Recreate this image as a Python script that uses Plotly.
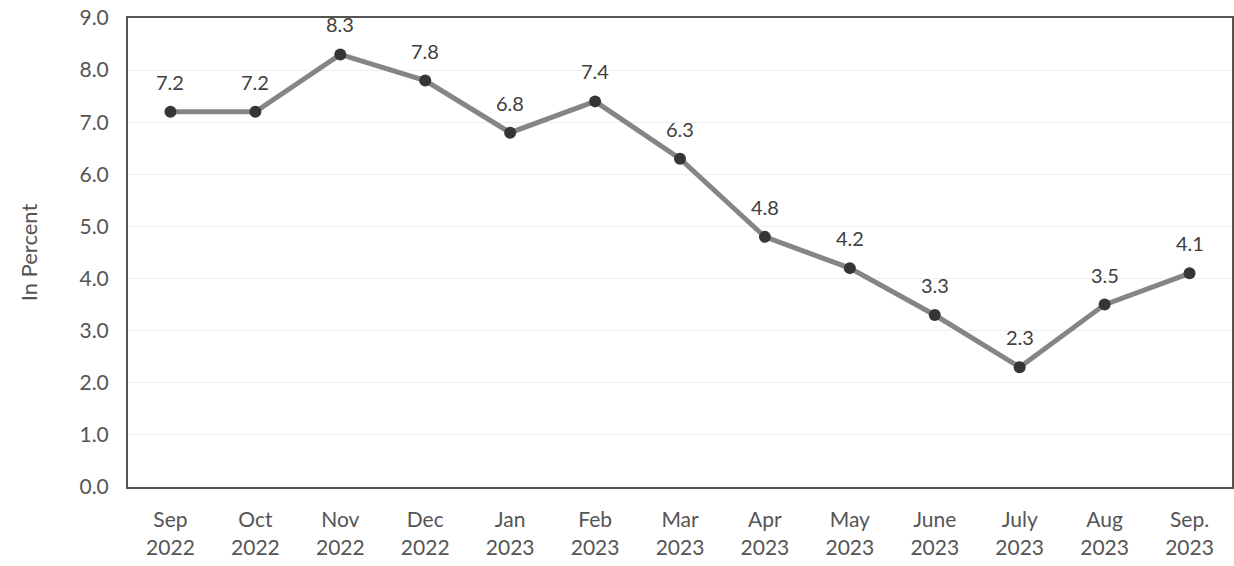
import plotly.graph_objects as go

months = ["Sep<br>2022", "Oct<br>2022", "Nov<br>2022", "Dec<br>2022", "Jan<br>2023", "Feb<br>2023",
          "Mar<br>2023", "Apr<br>2023", "May<br>2023", "June<br>2023", "July<br>2023", "Aug<br>2023",
          "Sep.<br>2023"]
values = [7.2, 7.2, 8.3, 7.8, 6.8, 7.4, 6.3, 4.8, 4.2, 3.3, 2.3, 3.5, 4.1]
y_ticks = [0, 1, 2, 3, 4, 5, 6, 7, 8, 9]

font_family = "Lato, 'Open Sans', sans-serif"

fig = go.Figure()
fig.add_trace(go.Scatter(
    x=months, y=values, mode="lines+markers",
    line=dict(color="#858585", width=5),
    marker=dict(color="#363636", size=12, line=dict(color="#363636", width=0)),
    showlegend=False, cliponaxis=False,
))

for m, v in zip(months, values):
    fig.add_annotation(x=m, y=v, text=f"{v:.1f}", showarrow=False, yshift=30,
                       font=dict(family=font_family, size=20, color="#404040"))

fig.update_layout(
    width=1234, height=566,
    margin=dict(l=128, r=2, t=18, b=79, autoexpand=False),
    paper_bgcolor="white", plot_bgcolor="white",
    font=dict(family=font_family, size=21, color="#555555"),
)
fig.update_xaxes(
    type="category", range=[-0.5, 12.5], automargin=False,
    showline=True, linecolor="#555555", linewidth=2, mirror=True,
    showgrid=False, ticks="", ticklabelstandoff=13, tickfont=dict(size=21, color="#555555"),
)
fig.update_yaxes(
    range=[0, 9], tickvals=y_ticks, tickformat=".1f", automargin=False,
    showline=True, linecolor="#555555", linewidth=2, mirror=True,
    showgrid=True, gridcolor="#eeeeee", gridwidth=1, zeroline=False,
    ticks="", ticklabelstandoff=13, tickfont=dict(size=21, color="#555555"),
    title=dict(text="In Percent", font=dict(size=22, color="#555555"), standoff=36),
)

fig.write_html("out.html", config={"displayModeBar": False},
               post_script="document.body.style.margin='0';document.body.style.overflow='hidden';")
